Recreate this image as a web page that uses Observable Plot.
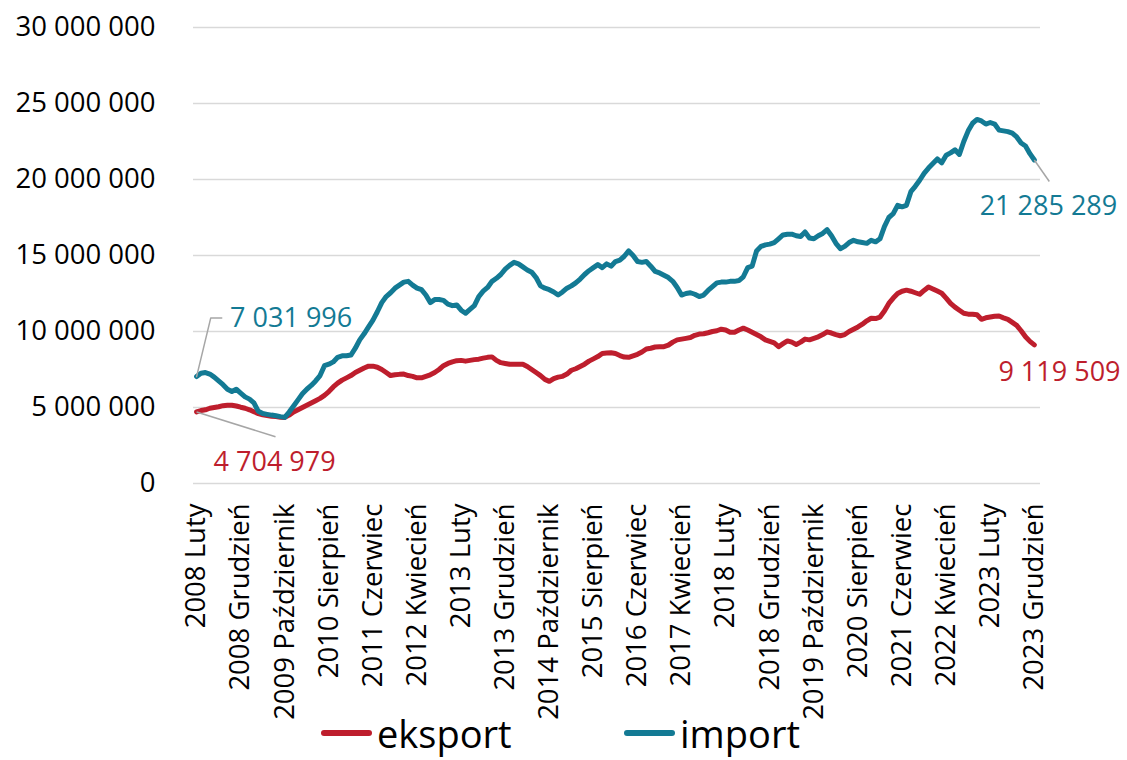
<!DOCTYPE html>
<html><head><meta charset="utf-8">
<script src="https://cdn.jsdelivr.net/npm/d3@7"></script>
<script src="https://cdn.jsdelivr.net/npm/@observablehq/plot@0.6"></script>
<style>
body{margin:0;background:#fff;font-family:"Open Sans",sans-serif;}
#wrap{position:relative;width:1127px;height:760px;overflow:hidden;}
#wrap svg{position:absolute;left:0;top:0;overflow:visible;}
.item{position:absolute;top:709px;display:flex;align-items:center;font-size:38px;line-height:48px;color:#000;}
.sw{width:51px;height:6px;border-radius:3px;margin-right:5px;}
</style></head><body><div id="wrap"></div><script>
const seriesNames = ["eksport", "import"];
const colors = ["#be1e2d", "#137a94"];
const tickLabels = ["2008 Luty","2008 Grudzień","2009 Październik","2010 Sierpień","2011 Czerwiec","2012 Kwiecień","2013 Luty","2013 Grudzień","2014 Październik","2015 Sierpień","2016 Czerwiec","2017 Kwiecień","2018 Luty","2018 Grudzień","2019 Październik","2020 Sierpień","2021 Czerwiec","2022 Kwiecień","2023 Luty","2023 Grudzień"];
const yTicks = [0, 5e6, 10e6, 15e6, 20e6, 25e6, 30e6];
// monthly values, Feb 2008 .. Dec 2023, in millions
const importM = [7.031996,7.25,7.3,7.2,7.0,6.75,6.5,6.2,6.05,6.2,5.95,5.7,5.55,5.3,4.75,4.6,4.55,4.5,4.46,4.4,
4.35,4.7,5.1,5.5,5.9,6.2,6.45,6.75,7.1,7.75,7.85,8.0,8.3,8.4,8.4,8.45,8.9,9.45,9.85,10.3,
10.75,11.3,11.9,12.3,12.55,12.85,13.05,13.25,13.3,13.05,12.85,12.75,12.4,11.9,12.1,12.1,12.05,11.8,11.7,11.75,
11.4,11.2,11.45,11.7,12.3,12.65,12.9,13.3,13.5,13.75,14.1,14.35,14.55,14.45,14.25,14.05,13.9,13.55,13.0,12.85,
12.75,12.6,12.4,12.6,12.85,13.0,13.2,13.45,13.75,14.0,14.2,14.4,14.2,14.45,14.3,14.6,14.7,14.95,15.3,15.0,
14.6,14.55,14.6,14.3,13.95,13.85,13.7,13.55,13.3,12.9,12.4,12.5,12.55,12.45,12.3,12.4,12.7,12.95,13.2,13.25,
13.25,13.3,13.3,13.35,13.6,14.2,14.3,15.3,15.6,15.7,15.75,15.85,16.1,16.35,16.4,16.4,16.3,16.25,16.55,16.15,
16.1,16.3,16.45,16.7,16.3,15.8,15.45,15.6,15.85,16.0,15.9,15.85,15.8,16.0,15.9,16.1,16.9,17.5,17.75,18.3,
18.2,18.3,19.2,19.55,19.95,20.4,20.75,21.05,21.35,21.1,21.6,21.75,21.95,21.65,22.5,23.2,23.7,23.95,23.85,23.65,
23.75,23.65,23.25,23.2,23.15,23.05,22.8,22.4,22.2,21.7,21.285289];
const eksportM = [4.704979,4.8,4.85,4.95,5.0,5.05,5.12,5.15,5.15,5.1,5.02,4.95,4.85,4.72,4.6,4.52,4.47,4.42,4.4,4.36,
4.35,4.5,4.7,4.85,5.0,5.15,5.3,5.45,5.6,5.8,6.05,6.35,6.6,6.8,6.95,7.1,7.3,7.45,7.6,7.72,
7.72,7.65,7.5,7.3,7.1,7.15,7.18,7.2,7.1,7.05,6.95,6.95,7.05,7.15,7.3,7.5,7.75,7.9,8.0,8.08,
8.1,8.05,8.1,8.15,8.18,8.25,8.3,8.33,8.1,7.95,7.9,7.85,7.85,7.85,7.85,7.7,7.5,7.3,7.1,6.85,
6.72,6.9,7.0,7.05,7.2,7.45,7.55,7.7,7.85,8.05,8.2,8.35,8.55,8.58,8.6,8.55,8.42,8.32,8.3,8.4,
8.5,8.65,8.85,8.9,8.98,9.0,9.0,9.1,9.3,9.45,9.5,9.55,9.6,9.75,9.83,9.85,9.92,10.0,10.05,10.15,
10.1,9.95,9.95,10.1,10.22,10.1,9.95,9.8,9.65,9.45,9.35,9.25,9.0,9.2,9.38,9.3,9.15,9.3,9.5,9.45,
9.55,9.65,9.8,9.98,9.9,9.8,9.72,9.8,10.0,10.15,10.3,10.48,10.7,10.87,10.85,10.95,11.35,11.85,12.2,12.5,
12.65,12.72,12.65,12.55,12.45,12.7,12.93,12.8,12.66,12.52,12.2,11.85,11.6,11.4,11.2,11.14,11.14,11.1,10.8,10.9,
10.95,11.0,11.02,10.9,10.8,10.6,10.4,10.05,9.65,9.35,9.119509];

const fmt = v => d3.format(",")(Math.round(v)).replace(/,/g, " ");
const rows = [];
[eksportM, importM].forEach((arr, s) => arr.forEach((v, i) => rows.push({i, v: v * 1e6, s: seriesNames[s]})));
const n = importM.length - 1;
const tickPos = tickLabels.map((_, k) => k * 10);

const first = {imp: importM[0] * 1e6, eks: eksportM[0] * 1e6};
const last = {imp: importM[n] * 1e6, eks: eksportM[n] * 1e6};

// annotation leaders & labels (offsets from the data point, in data units)
const leaderImpStart = [{i: 0, v: first.imp}, {i: 3.2, v: first.imp + 3.85e6}, {i: 5.7, v: first.imp + 3.85e6}];
const leaderEksStart = [{i1: 0, v1: first.eks, i2: 17.9, v2: first.eks - 1.63e6}];
const leaderImpEnd = [{i1: n, v1: last.imp, i2: n + 3.4, v2: last.imp - 1.42e6}];
const labelsStart = [
  {i: 7.6, v: first.imp + 3.8e6, t: fmt(first.imp), c: colors[1]}
];
const labelsMid = [
  {i: 17.7, v: first.eks - 3.32e6, t: fmt(first.eks), c: colors[0]},
  {i: n + 3.2, v: last.imp - 3.05e6, t: fmt(last.imp), c: colors[1]},
  {i: n + 5.7, v: last.eks - 1.84e6, t: fmt(last.eks), c: colors[0]}
];

const chart = Plot.plot({
  width: 1127, height: 710,
  marginLeft: 193, marginRight: 87, marginTop: 27, marginBottom: 227,
  style: {fontFamily: '"Open Sans", sans-serif', fontSize: "27.5px", color: "#000", background: "transparent", overflow: "visible"},
  x: {domain: [-0.7, 191.4], ticks: tickPos, tickFormat: k => tickLabels[k / 10], tickRotate: -90, tickSize: 0, tickPadding: 20, label: null},
  y: {domain: [0, 30e6], ticks: yTicks, tickFormat: fmt, tickSize: 0, tickPadding: 38, label: null},
  marks: [
    Plot.ruleY(yTicks, {stroke: "#d9d9d9", strokeWidth: 1.5}),
    Plot.line(rows.filter(d => d.s === "eksport"), {x: "i", y: "v", stroke: colors[0], strokeWidth: 5, strokeLinejoin: "round", strokeLinecap: "round"}),
    Plot.line(rows.filter(d => d.s === "import"), {x: "i", y: "v", stroke: colors[1], strokeWidth: 5, strokeLinejoin: "round", strokeLinecap: "round"}),
    Plot.line(leaderImpStart, {x: "i", y: "v", stroke: "#a6a6a6", strokeWidth: 1.5}),
    Plot.link(leaderEksStart, {x1: "i1", y1: "v1", x2: "i2", y2: "v2", stroke: "#a6a6a6", strokeWidth: 1.5}),
    Plot.link(leaderImpEnd, {x1: "i1", y1: "v1", x2: "i2", y2: "v2", stroke: "#a6a6a6", strokeWidth: 1.5}),
    Plot.text(labelsStart, {x: "i", y: "v", text: "t", fill: "c", textAnchor: "start", fontSize: 27})
    ,
    Plot.text(labelsMid, {x: "i", y: "v", text: "t", fill: "c", textAnchor: "middle", fontSize: 27})
  ]
});
const wrap = document.getElementById("wrap");
wrap.appendChild(chart);
seriesNames.forEach((name, s) => {
  const it = document.createElement("div");
  it.className = "item";
  it.style.left = (s === 0 ? 321 : 624) + "px";
  it.innerHTML = `<span class="sw" style="background:${colors[s]}"></span><span>${name}</span>`;
  wrap.appendChild(it);
});
</script></body></html>
